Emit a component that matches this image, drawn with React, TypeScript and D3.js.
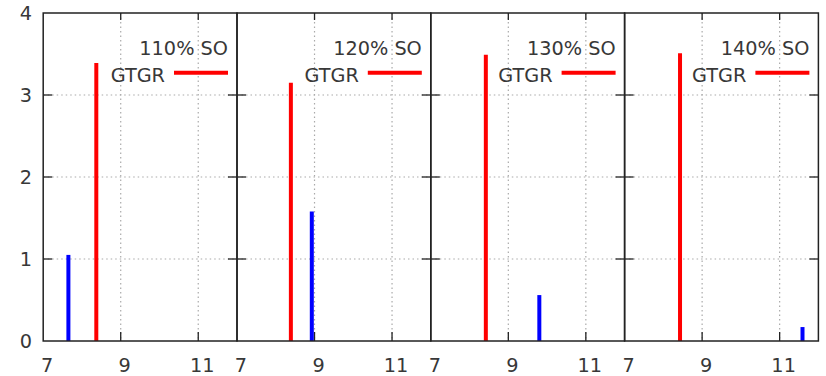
import React, { useEffect, useRef } from "react";
import * as d3 from "d3";

const panelTitles = ["110% SO", "120% SO", "130% SO", "140% SO"];
const gtgrX = [8.37, 8.39, 8.42, 8.43];
const gtgrY = [3.39, 3.15, 3.49, 3.51];
const blueX = [7.65, 8.93, 9.8, 11.59];
const blueY = [1.05, 1.58, 0.56, 0.17];
const xTickLabels = [7, 9, 11];
const yTickLabels = [0, 1, 2, 3, 4];
const legendLabel = "GTGR";

export default function App() {
  const ref = useRef<SVGSVGElement>(null);

  useEffect(() => {
    const width = 826;
    const height = 376;
    const left = 43.2;
    const panelW = 193.8;
    const top = 13;
    const bottom = 341;
    const font = "'DejaVu Sans', Verdana, sans-serif";
    const fontSize = 19.3;
    const textColor = "#383838";

    const svg = d3.select(ref.current);
    svg.selectAll("*").remove();
    svg.attr("width", width).attr("height", height);

    const y = d3.scaleLinear().domain([0, 4]).range([bottom, top]);

    // y tick labels
    svg
      .append("g")
      .selectAll("text")
      .data(yTickLabels)
      .join("text")
      .attr("x", 32)
      .attr("y", d => y(d))
      .attr("dy", "0.36em")
      .attr("text-anchor", "end")
      .attr("fill", textColor)
      .attr("font-family", font)
      .attr("font-size", fontSize)
      .text(d => d);

    panelTitles.forEach((title, i) => {
      const x0 = left + i * panelW;
      const x = d3.scaleLinear().domain([7, 12]).range([x0, x0 + panelW]);
      const g = svg.append("g");

      // grid
      g.selectAll(".gx")
        .data([9, 11])
        .join("line")
        .attr("x1", d => x(d))
        .attr("x2", d => x(d))
        .attr("y1", top)
        .attr("y2", bottom)
        .attr("stroke", "#aaa")
        .attr("stroke-width", 1.2)
        .attr("stroke-dasharray", "1.5,3");
      g.selectAll(".gy")
        .data([1, 2, 3])
        .join("line")
        .attr("x1", x0)
        .attr("x2", x0 + panelW)
        .attr("y1", d => y(d))
        .attr("y2", d => y(d))
        .attr("stroke", "#aaa")
        .attr("stroke-width", 1.2)
        .attr("stroke-dasharray", "1.5,3");

      // ticks (inward)
      [9, 11].forEach(t => {
        g.append("line")
          .attr("x1", x(t)).attr("x2", x(t))
          .attr("y1", bottom).attr("y2", bottom - 9)
          .attr("stroke", "#222").attr("stroke-width", 1.3);
        g.append("line")
          .attr("x1", x(t)).attr("x2", x(t))
          .attr("y1", top).attr("y2", top + 7)
          .attr("stroke", "#222").attr("stroke-width", 1.3);
      });
      [1, 2, 3].forEach(t => {
        g.append("line")
          .attr("x1", x0).attr("x2", x0 + 9)
          .attr("y1", y(t)).attr("y2", y(t))
          .attr("stroke", "#222").attr("stroke-width", 1.3);
        g.append("line")
          .attr("x1", x0 + panelW).attr("x2", x0 + panelW - 9)
          .attr("y1", y(t)).attr("y2", y(t))
          .attr("stroke", "#222").attr("stroke-width", 1.3);
      });

      // x tick labels
      g.selectAll(".xl")
        .data(xTickLabels)
        .join("text")
        .attr("x", d => x(d) + 4)
        .attr("y", 372)
        .attr("text-anchor", "middle")
        .attr("fill", textColor)
        .attr("font-family", font)
        .attr("font-size", fontSize)
        .text(d => d);

      // bars (impulses)
      g.append("line")
        .attr("x1", x(blueX[i])).attr("x2", x(blueX[i]))
        .attr("y1", y(0)).attr("y2", y(blueY[i]))
        .attr("stroke", "#0000ff").attr("stroke-width", 4);
      g.append("line")
        .attr("x1", x(gtgrX[i])).attr("x2", x(gtgrX[i]))
        .attr("y1", y(0)).attr("y2", y(gtgrY[i]))
        .attr("stroke", "#ff0000").attr("stroke-width", 4);

      // legend
      const lx = x0 + panelW - 9;
      g.append("text")
        .attr("x", lx)
        .attr("y", 55)
        .attr("text-anchor", "end")
        .attr("fill", textColor)
        .attr("font-family", font)
        .attr("font-size", fontSize)
        .text(title);
      g.append("text")
        .attr("x", lx - 63)
        .attr("y", 81.5)
        .attr("text-anchor", "end")
        .attr("fill", textColor)
        .attr("font-family", font)
        .attr("font-size", fontSize)
        .text(legendLabel);
      g.append("line")
        .attr("x1", lx - 54).attr("x2", lx)
        .attr("y1", 72.7).attr("y2", 72.7)
        .attr("stroke", "#ff0000").attr("stroke-width", 4);

      // border
      g.append("rect")
        .attr("x", x0).attr("y", top)
        .attr("width", panelW).attr("height", bottom - top)
        .attr("fill", "none")
        .attr("stroke", "#222")
        .attr("stroke-width", 1.5);
    });
  }, []);

  return (
    <svg
      ref={ref}
      style={{ position: "absolute", left: 0, top: 0, background: "#fff" }}
    ></svg>
  );
}
